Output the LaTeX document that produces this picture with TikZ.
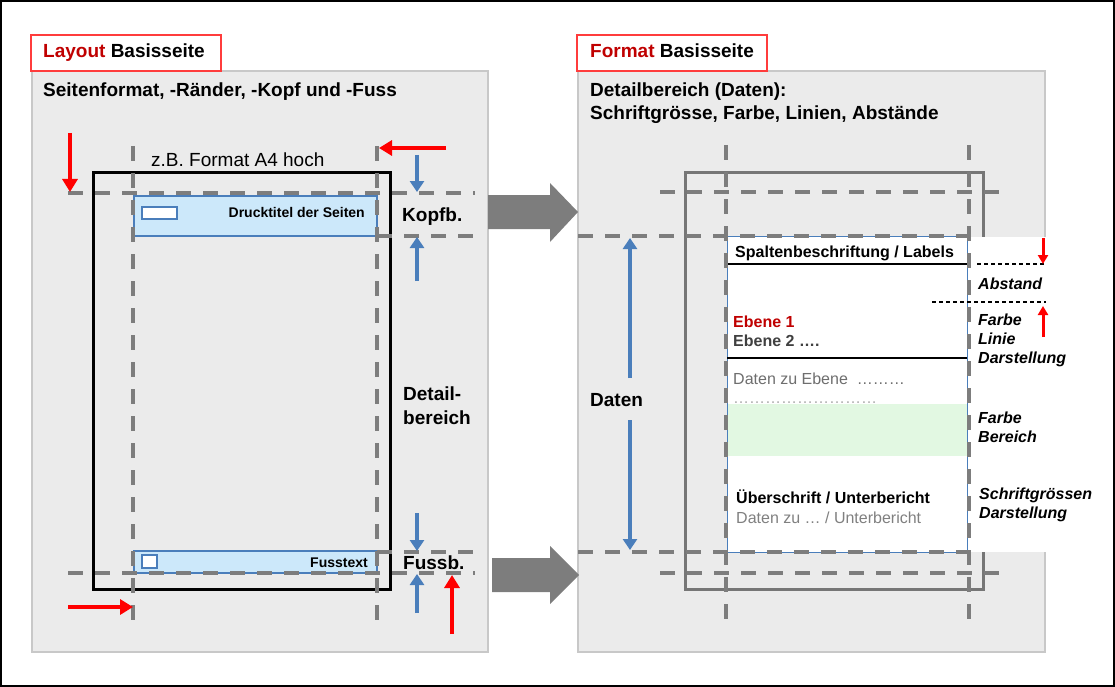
\documentclass[tikz,border=0pt]{standalone}
\usepackage{fontspec}
\setmainfont{Liberation Sans}
\usetikzlibrary{arrows.meta}
\definecolor{bsRed}{RGB}{255,0,0}
\definecolor{bsDark}{RGB}{192,0,0}
\definecolor{bsBox}{RGB}{255,60,60}
\definecolor{bsBlue}{RGB}{74,126,187}
\definecolor{bsLight}{RGB}{204,232,250}
\definecolor{bsPanel}{RGB}{235,235,235}
\definecolor{bsEdge}{RGB}{200,200,200}
\definecolor{bsGuide}{RGB}{125,125,125}
\definecolor{bsFrame}{RGB}{118,118,118}
\definecolor{bsGreen}{RGB}{226,248,226}

\begin{document}
\begin{tikzpicture}[x=1pt,y=-1pt,
  guide/.style={bsGuide,line width=4.5pt,dash pattern=on 15pt off 12pt},
  redarr/.style={-{Triangle[length=13pt,width=15pt]},bsRed,line width=4pt},
  redsm/.style={-{Triangle[length=9pt,width=10pt]},bsRed,line width=3pt},
  bluearr/.style={-{Triangle[length=11pt,width=14pt]},bsBlue,line width=4pt},
  thindash/.style={black,line width=1.2pt,dash pattern=on 4pt off 3pt},
  head/.style={font=\fontsize{19}{23}\selectfont\bfseries,anchor=base west,inner sep=0pt},
  body/.style={font=\fontsize{19}{23}\selectfont,anchor=base west,inner sep=0pt},
  lbl/.style={font=\fontsize{16}{19}\selectfont\bfseries,anchor=base west,inner sep=0pt},
  note/.style={font=\fontsize{16}{19}\selectfont\bfseries\itshape,anchor=base west,inner sep=0pt},
  datatxt/.style={font=\fontsize{16}{19}\selectfont,anchor=base west,inner sep=0pt},
  small/.style={font=\fontsize{14}{17}\selectfont\bfseries,anchor=base east,inner sep=0pt}]
\useasboundingbox (0,0) rectangle (1115,687);
\draw[line width=2pt] (1,1) rectangle (1114,686);

\draw[fill=bsPanel,draw=bsEdge,line width=1.5pt] (32,71) rectangle (488,652);
\draw[fill=bsPanel,draw=bsEdge,line width=1.5pt] (578,71) rectangle (1045,652);
\draw[fill=white,draw=bsBox,line width=1.5pt] (31,35) rectangle (221,71);
\draw[fill=white,draw=bsBox,line width=1.5pt] (577,35) rectangle (767,71);
\node[head] (layout) at (43,58) {\textcolor{bsDark}{Layout} Basisseite};
\node[head] (format) at (590,58) {\textcolor{bsDark}{Format} Basisseite};

\node[head] (seite) at (43,97) {Seitenformat, -Ränder, -Kopf und -Fuss};
\draw[line width=3pt] (93,173) rectangle (390,589);
\node[body] (a4) at (151,167) {z.B. Format A4 hoch};
\draw[draw=bsBlue,fill=bsLight,line width=1.5pt] (134,196) rectangle (377,236);
\draw[draw=bsBlue,fill=white,line width=1.5pt] (142,207) rectangle (177,219);
\node[small] (titel) at (365,217) {Drucktitel der Seiten};
\draw[draw=bsBlue,fill=bsLight,line width=1.5pt] (134,551) rectangle (377,573);
\draw[draw=bsBlue,fill=white,line width=1.5pt] (142,555) rectangle (157,568);
\node[small] (fusstext) at (368,567) {Fusstext};
\draw[guide] (133,146) -- (133,624);
\draw[guide] (377,146) -- (377,624);
\draw[guide] (68,193) -- (475,193);
\draw[guide] (377,236) -- (475,236);
\draw[guide] (377,552) -- (475,552);
\draw[guide] (68,573) -- (475,573);
\draw[redarr] (70,133) -- (70,192);
\draw[redarr] (446,148) -- (379,148);
\draw[redarr] (68,607) -- (133,607);
\draw[redarr] (452,634) -- (452,575);
\draw[bluearr] (417,155) -- (417,192);
\draw[bluearr] (417,281) -- (417,237);
\draw[bluearr] (417,513) -- (417,551);
\draw[bluearr] (417,613) -- (417,574);
\node[head] (kopf) at (402,221) {Kopfb.};
\node[head] (detail) at (403,400) {Detail-};
\node[head] (bereich) at (403,424) {bereich};
\node[head] (fuss) at (403,569) {Fussb.};

\fill[bsGuide] (488,195) -- (550,195) -- (550,183) -- (578,212) -- (550,242) -- (550,229) -- (488,229) -- cycle;
\fill[bsGuide] (492,558) -- (550,558) -- (550,546) -- (579,575) -- (550,604) -- (550,592) -- (492,592) -- cycle;

\node[head] (dbereich) at (590,97) {Detailbereich (Daten):};
\node[head] (schrift) at (590,120) {Schriftgrösse, Farbe, Linien, Abstände};
\draw[draw=bsFrame,line width=3pt] (685,173) rectangle (983,589);
\draw[guide] (660,192) -- (1008,192);
\draw[guide] (660,573) -- (1008,573);
\fill[white] (967,237) rectangle (1047,552);
\draw[draw=bsBlue,fill=white,line width=1pt] (727,236) rectangle (967,552);
\fill[bsGreen] (727.5,404) rectangle (966.5,456);
\draw[line width=1.5pt] (727,264) -- (967,264);
\draw[line width=2pt] (727,358) -- (967,358);
\draw[thindash] (977,264) -- (1046,264);
\draw[thindash] (932,302) -- (1046,302);
\draw[redsm] (1043,238) -- (1043,264);
\draw[redsm] (1043,337) -- (1043,306);
\draw[guide] (726,145) -- (726,626);
\draw[guide] (969,145) -- (969,626);
\draw[guide] (578,236) -- (968,236);
\draw[guide] (578,552) -- (968,552);
\draw[bluearr] (630,378) -- (630,238);
\draw[bluearr] (630,420) -- (630,550);
\node[head] (daten) at (590,406) {Daten};

\node[lbl] (spalten) at (735,257) {Spaltenbeschriftung / Labels};
\node[lbl,text=bsDark] (ebene1) at (733,327) {Ebene 1};
\node[lbl,text=black!75] (ebene2) at (733,346) {Ebene 2 ….};
\node[datatxt,text=black!57] (zuebene) at (733,384) {Daten zu Ebene~ ………};
\node[datatxt,text=black!33] (punkte) at (733,403) {………………………};
\node[lbl] (ueber) at (736,503) {Überschrift / Unterbericht};
\node[datatxt,text=black!50] (zuunter) at (736,523) {Daten zu … / Unterbericht};

\node[note] (abstand) at (978,289) {Abstand};
\node[note] (farbe1) at (978,325) {Farbe};
\node[note] (linie) at (978,344) {Linie};
\node[note] (darst1) at (978,363) {Darstellung};
\node[note] (farbe2) at (978,423) {Farbe};
\node[note] (bereich2) at (978,442) {Bereich};
\node[note] (groessen) at (979,499) {Schriftgrössen};
\node[note] (darst2) at (979,518) {Darstellung};
\end{tikzpicture}
\end{document}
